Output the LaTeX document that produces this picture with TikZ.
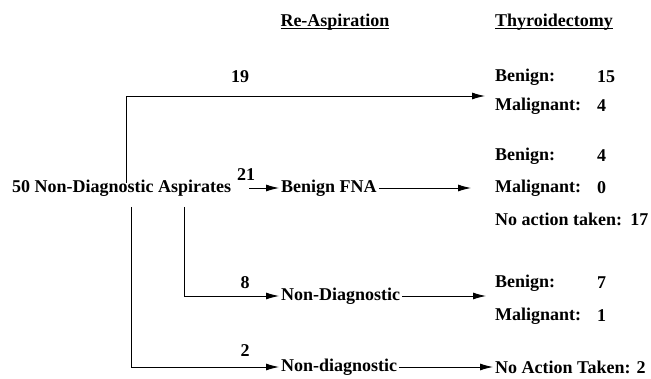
\documentclass[tikz,border=0pt]{standalone}
\usepackage{fontspec}
\setmainfont{Liberation Serif}
\usetikzlibrary{arrows.meta}
\newcommand{\hdline}[1]{\setbox0\hbox{#1}\rlap{\rule[-2.5pt]{\wd0}{0.8pt}}\box0}

\begin{document}
\begin{tikzpicture}[x=1pt,y=-1pt,
    txt/.style={font=\fontsize{18}{20}\selectfont\bfseries, inner sep=2pt, anchor=west},
    flow/.style={-{Latex[length=13pt,width=7pt]}, line width=0.9pt}]
  \useasboundingbox (0,0) rectangle (651,379);
  % headings
  \node[txt, anchor=center] (reasp) at (335,22) {\hdline{Re-Aspiration}};
  \node[txt] (thyr) at (493,22) {\hdline{Thyroidectomy}};
  % aspirates and re-aspiration
  \node[txt] (src) at (10,188) {50 Non-Diagnostic Aspirates};
  \node[txt] (fna) at (279,188) {Benign FNA};
  \node[txt] (nd1) at (279,296) {Non-Diagnostic};
  \node[txt] (nd2) at (279,367) {Non-diagnostic};
  % counts on the branches
  \node[txt, anchor=center] (n19) at (240,77) {19};
  \node[txt, anchor=center] (n21) at (246,175) {21};
  \node[txt, anchor=center] (n8) at (245,283) {8};
  \node[txt, anchor=center] (n2) at (245,351) {2};
  % thyroidectomy
  \node[txt] (ben1) at (493,77) {Benign:};
  \node[txt] (ben1v) at (595,77) {15};
  \node[txt] (mal1) at (493,106) {Malignant:};
  \node[txt] (mal1v) at (595,106) {4};
  \node[txt] (ben2) at (493,156) {Benign:};
  \node[txt] (ben2v) at (595,156) {4};
  \node[txt] (mal2) at (493,188) {Malignant:};
  \node[txt] (mal2v) at (595,188) {0};
  \node[txt] (noact1) at (493,219) {No action taken:\hspace{0.45em}17};
  \node[txt] (ben3) at (493,283) {Benign:};
  \node[txt] (ben3v) at (595,283) {7};
  \node[txt] (mal3) at (493,316) {Malignant:};
  \node[txt] (mal3v) at (595,316) {1};
  \node[txt] (noact2) at (493,367) {No Action Taken: 2};
  % branch points
  \coordinate (c19) at (126,183);
  \coordinate (e19) at (485,96);
  \coordinate (c8) at (184,207);
  \coordinate (e8) at (486,296);
  \coordinate (c2) at (131,207);
  \draw[flow] (c19) |- (e19);
  \draw[flow] ([xshift=16pt]src.east) -- (fna);
  \draw[flow] (fna) -- ([xshift=-22pt]mal2.west);
  \draw[flow] (c8) |- (nd1);
  \draw[flow] (nd1) -- (e8);
  \draw[flow] (c2) |- (nd2);
  \draw[flow] (nd2) -- (noact2);
\end{tikzpicture}
\end{document}
